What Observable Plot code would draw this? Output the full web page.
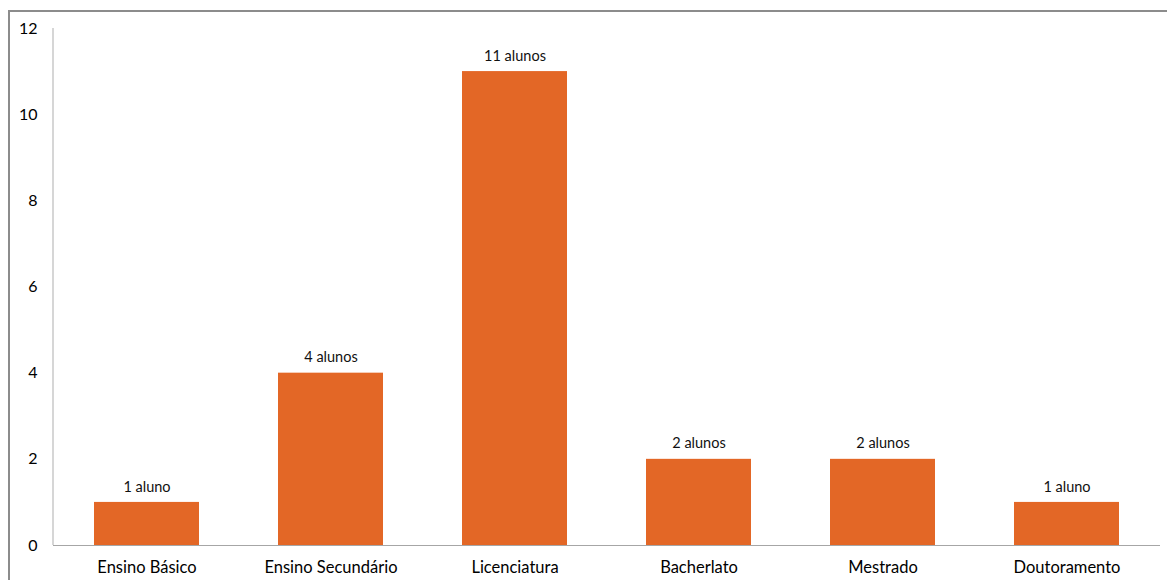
<!DOCTYPE html>
<html>
<head>
<meta charset="utf-8">
<script src="https://cdn.jsdelivr.net/npm/d3@7"></script>
<script src="https://cdn.jsdelivr.net/npm/@observablehq/plot@0.6"></script>
<style>
  html, body { margin: 0; padding: 0; background: #fff; }
  #wrap { position: relative; width: 1167px; height: 580px; overflow: hidden; }
  #frame {
    position: absolute; left: 8px; top: 10px; width: 1300px; height: 700px;
    border-left: 2px solid #8c8c8c; border-top: 2px solid #8c8c8c;
    pointer-events: none;
  }
  #chart { position: absolute; left: 0; top: 0; }
</style>
</head>
<body>
<div id="wrap">
  <div id="chart"></div>
  <div id="frame"></div>
</div>
<script>
// Students by highest completed education level
const levels = ["Ensino Básico", "Ensino Secundário", "Licenciatura", "Bacherlato", "Mestrado", "Doutoramento"];
const students = [1, 4, 11, 2, 2, 1];
const valueLabels = ["1 aluno", "4 alunos", "11 alunos", "2 alunos", "2 alunos", "1 aluno"];
const yTicks = [0, 2, 4, 6, 8, 10, 12];

const data = levels.map((level, i) => ({level, count: students[i], label: valueLabels[i]}));

const font = "Lato, 'Open Sans', sans-serif";
const marginLeft = 53;

const chart = Plot.plot({
  width: 1167,
  height: 580,
  marginLeft,
  marginRight: 7,
  marginTop: 28,
  marginBottom: 35,
  style: {fontFamily: font, fontSize: "16px", color: "#000", background: "transparent"},
  x: {domain: levels, paddingInner: 0.43, paddingOuter: 0.215, label: null},
  y: {domain: [0, 12], label: null},
  marks: [
    Plot.barY(data, {x: "level", y: "count", fill: "#e36726"}),
    Plot.ruleY([0], {stroke: "#a6a6a6", strokeWidth: 1.2}),
    Plot.text(data, {x: "level", y: "count", text: "label", dy: -15.5, fontSize: 14.5, fill: "#111"}),
    Plot.axisY({ticks: yTicks, tickSize: 0, tickPadding: 16, tickFormat: d => d, fontSize: 16}),
    Plot.axisX({tickSize: 0, tickPadding: 16, fontSize: 16.5})
  ]
});

// vertical axis line along the left edge of the plot area, spanning the y domain
const y = chart.scale("y");
d3.select(chart).append("line")
  .attr("x1", marginLeft).attr("x2", marginLeft)
  .attr("y1", y.apply(12)).attr("y2", y.apply(0))
  .attr("stroke", "#c8c8c8").attr("stroke-width", 1.5);

document.getElementById("chart").append(chart);
</script>
</body>
</html>
